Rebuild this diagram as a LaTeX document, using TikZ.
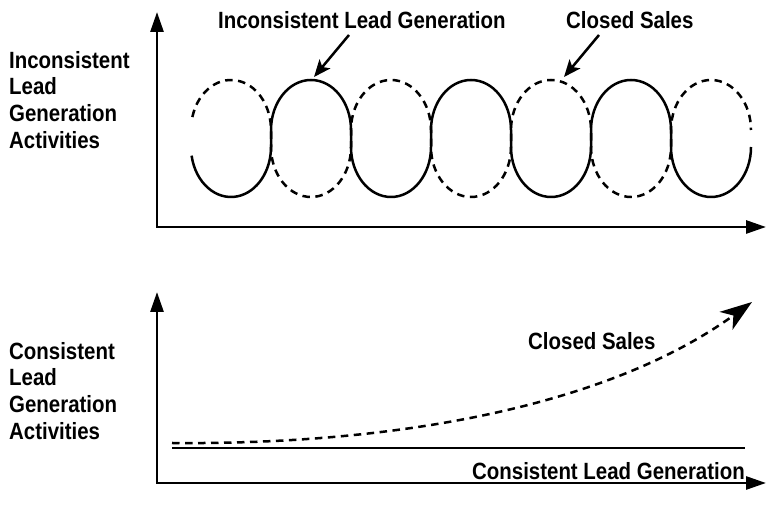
\documentclass[tikz,border=0pt]{standalone}
\usepackage{fontspec}
\setmainfont{Liberation Sans}[FakeStretch=0.87]
\usetikzlibrary{arrows.meta}

\begin{document}
\begin{tikzpicture}[x=1bp, y=1bp,
    axis/.style={line width=2.8bp, line join=miter,
        {Triangle[length=20bp,width=13bp]}-{Triangle[length=20bp,width=13bp]}},
    curve/.style={line width=2.5bp, x radius=40bp, y radius=50bp},
    dashline/.style={curve, dash pattern=on 7.5bp off 5.5bp},
    pointer/.style={line width=2.5bp, -{Stealth[length=17bp,width=14bp,inset=4bp]}},
    lbl/.style={font=\bfseries\fontsize{23.5bp}{26.7bp}\selectfont, inner sep=0pt, align=left}]
  \useasboundingbox (0,0) rectangle (767,512);

  % upper chart
  \draw[axis] (157,500) -- (157,285) -- (766,285);

  \node[lbl, anchor=north west] (act1) at (9,461)  {Inconsistent\\Lead\\Generation\\Activities};
  \node[lbl, anchor=base west]  (lig)  at (218,483) {Inconsistent Lead Generation};
  \node[lbl, anchor=base west]  (cs1)  at (566,483) {Closed Sales};

  % loops: solid = lead generation, dashed = closed sales
  \draw[curve] (231,365) ++(190:40bp and 50bp) arc[start angle=190, end angle=360]
      \foreach \k in {1,2,3} {
        -- ++(0,17) arc[start angle=180, end angle=0]
        -- ++(0,-17) arc[start angle=180, end angle=360]
      };
  \draw[dashline] (231,382) ++(165:40bp and 50bp) arc[start angle=165, end angle=0]
      \foreach \k in {1,2,3} {
        -- ++(0,-17) arc[start angle=180, end angle=360]
        -- ++(0,17) arc[start angle=180, end angle=0]
      };

  \coordinate (tail1) at (349,477);
  \coordinate (top2)  at (314,435);
  \coordinate (tail2) at (599,477);
  \coordinate (top5)  at (564,435);
  \draw[pointer] (tail1) -- (top2);
  \draw[pointer] (tail2) -- (top5);

  % lower chart
  \draw[axis] (157,220) -- (157,29) -- (766,29);

  \node[lbl, anchor=north west] (act2) at (9,170)  {Consistent\\Lead\\Generation\\Activities};
  \node[lbl, anchor=base west]  (cs2)  at (528,162) {Closed Sales};
  \node[lbl, anchor=base east]  (clg)  at (745,32)  {Consistent Lead Generation};

  \coordinate (flat0) at (172,64);
  \coordinate (flat1) at (745,64);
  \draw[line width=2.8bp] (flat0) -- (flat1);

  \coordinate (grow0) at (172,69);
  \coordinate (grow1) at (752,210);
  \draw[dashline, -{Stealth[length=32bp,width=22bp,inset=9bp]}]
      (grow0) .. controls (400,67) and (610,107) .. (grow1);
\end{tikzpicture}
\end{document}
